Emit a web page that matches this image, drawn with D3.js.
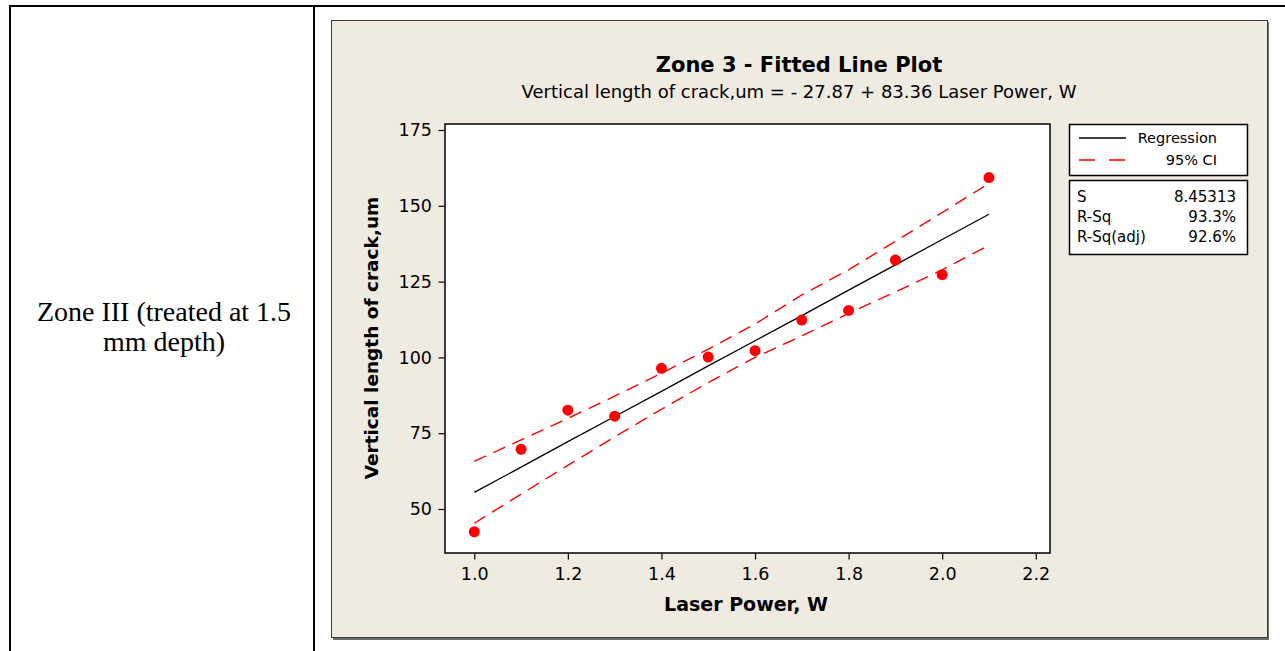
<!DOCTYPE html>
<html>
<head>
<meta charset="utf-8">
<title>Zone 3 - Fitted Line Plot</title>
<script src="https://cdn.jsdelivr.net/npm/d3@7"></script>
<style>
  body {margin:0;background:#fff;}
  svg text {font-family:"DejaVu Sans",Verdana,sans-serif;}
</style>
</head>
<body>
<svg id="chart" width="1285" height="651"></svg>
<script>
// values
var powerW   = [1.0, 1.1, 1.2, 1.3, 1.4, 1.5, 1.6, 1.7, 1.8, 1.9, 2.0, 2.1];
var crackUm  = [42.5, 69.7, 82.6, 80.6, 96.4, 100.1, 102.2, 112.3, 115.5, 132.1, 127.3, 159.3];
var fitUm    = [55.5, 63.8, 72.2, 80.5, 88.8, 97.2, 105.5, 113.8, 122.2, 130.5, 138.9, 147.2];
var ciUpper  = [65.7, 72.8, 79.9, 87.2, 94.8, 102.7, 111.0, 120.6, 128.9, 138.3, 147.8, 157.4];
var ciLower  = [45.3, 54.9, 64.4, 73.8, 82.9, 91.7, 100.0, 107.1, 114.5, 121.6, 128.9, 137.0];
var xTicks   = [1.0, 1.2, 1.4, 1.6, 1.8, 2.0, 2.2];
var yTicks   = [50, 75, 100, 125, 150, 175];
var legendItems = ["Regression", "95% CI"];
var statNames   = ["S", "R-Sq", "R-Sq(adj)"];
var statValues  = ["8.45313", "93.3%", "92.6%"];

var svg = d3.select("#chart");

// word table around the figure
var tbl = svg.append("g").attr("stroke","#000").attr("stroke-width",2);
tbl.append("line").attr("x1",10).attr("x2",1285).attr("y1",6).attr("y2",6);
tbl.append("line").attr("x1",10).attr("x2",10).attr("y1",5).attr("y2",651);
tbl.append("line").attr("x1",314).attr("x2",314).attr("y1",5).attr("y2",651);

var cell = svg.append("text").attr("x",164).attr("y",321).attr("text-anchor","middle")
  .style("font-family","'Liberation Serif','Times New Roman',serif").style("font-size","28px");
cell.append("tspan").attr("x",164).text("Zone III (treated at 1.5");
cell.append("tspan").attr("x",164).attr("dy",30).text("mm depth)");

// minitab panel
svg.append("rect").attr("x",333).attr("y",22).attr("width",936).attr("height",618).attr("fill","#6f6f6f");
svg.append("rect").attr("x",331.5).attr("y",20.5).attr("width",936).attr("height",617)
  .attr("fill","#efebe1").attr("stroke","#3c3c3c").attr("stroke-width",1);

svg.append("text").attr("x",799).attr("y",72).attr("text-anchor","middle")
  .style("font-size","21px").style("font-weight","bold").text("Zone 3 - Fitted Line Plot");
svg.append("text").attr("x",799).attr("y",98).attr("text-anchor","middle")
  .style("font-size","18px").text("Vertical length of crack,um =  - 27.87 + 83.36 Laser Power, W");

var pLeft = 445, pRight = 1050, pTop = 124, pBottom = 553;
var x = d3.scaleLinear().domain([0.9374, 2.2304]).range([pLeft, pRight]);
var y = d3.scaleLinear().domain([35.49, 176.98]).range([pBottom, pTop]);

svg.append("rect").attr("x",pLeft).attr("y",pTop).attr("width",pRight-pLeft).attr("height",pBottom-pTop)
  .attr("fill","#fff").attr("stroke","#000").attr("stroke-width",1.5);

var xAxis = svg.append("g").attr("transform","translate(0,"+(pBottom+0.5)+")")
  .call(d3.axisBottom(x).tickValues(xTicks).tickFormat(d3.format(".1f")).tickSize(6).tickSizeOuter(0));
var yAxis = svg.append("g").attr("transform","translate("+(pLeft-0.5)+",0)")
  .call(d3.axisLeft(y).tickValues(yTicks).tickSize(6).tickSizeOuter(0));
[xAxis, yAxis].forEach(function(a){
  a.select(".domain").remove();
  a.selectAll("line").attr("stroke","#000").attr("stroke-width",1.2);
  a.selectAll("text").style("font-size","17.5px").style("font-family","'DejaVu Sans',Verdana,sans-serif").attr("fill","#000");
});
xAxis.selectAll("text").attr("dy","1em");
yAxis.selectAll("text").attr("dx","-0.2em");

svg.append("text").attr("x",746).attr("y",611).attr("text-anchor","middle")
  .style("font-size","19px").style("font-weight","bold").text("Laser Power, W");
svg.append("text").attr("transform","translate(378,338) rotate(-90)").attr("text-anchor","middle")
  .style("font-size","18.5px").style("font-weight","bold").text("Vertical length of crack,um");

// lines
var line = d3.line().x(function(d){return x(d[0]);}).y(function(d){return y(d[1]);});
var plot = svg.append("g");
plot.append("path").datum(d3.zip(powerW, ciUpper)).attr("d",line)
  .attr("fill","none").attr("stroke","#ff0000").attr("stroke-width",1.4).attr("stroke-dasharray","13,8");
plot.append("path").datum(d3.zip(powerW, ciLower)).attr("d",line)
  .attr("fill","none").attr("stroke","#ff0000").attr("stroke-width",1.4).attr("stroke-dasharray","13,8");
plot.append("path").datum(d3.zip(powerW, fitUm)).attr("d",line)
  .attr("fill","none").attr("stroke","#000").attr("stroke-width",1.3);
plot.selectAll("circle").data(d3.zip(powerW, crackUm)).enter().append("circle")
  .attr("cx",function(d){return x(d[0]);}).attr("cy",function(d){return y(d[1]);})
  .attr("r",5.5).attr("fill","#ff0000");

// legend
var lg = svg.append("g");
lg.append("rect").attr("x",1069.5).attr("y",124.5).attr("width",178).attr("height",51)
  .attr("fill","#fff").attr("stroke","#000").attr("stroke-width",1.5);
lg.selectAll("g.item").data(legendItems).enter().append("g").attr("class","item")
  .each(function(d,i){
    var g = d3.select(this), yy = 138 + i*22;
    g.append("line").attr("x1",1079).attr("x2",1126).attr("y1",yy).attr("y2",yy)
      .attr("stroke", i==0 ? "#000" : "#ff0000").attr("stroke-width",1.4)
      .attr("stroke-dasharray", i==0 ? null : "16,14");
    g.append("text").attr("x",1217).attr("y",yy+5).attr("text-anchor","end")
      .style("font-size","14.5px").text(d);
  });

lg.append("rect").attr("x",1069.5).attr("y",180.5).attr("width",178).attr("height",74)
  .attr("fill","#fff").attr("stroke","#000").attr("stroke-width",1.5);
statNames.forEach(function(n,i){
  var yy = 202 + i*20;
  lg.append("text").attr("x",1077).attr("y",yy).style("font-size","15px").text(n);
  lg.append("text").attr("x",1236).attr("y",yy).attr("text-anchor","end").style("font-size","15px").text(statValues[i]);
});
</script>
</body>
</html>
